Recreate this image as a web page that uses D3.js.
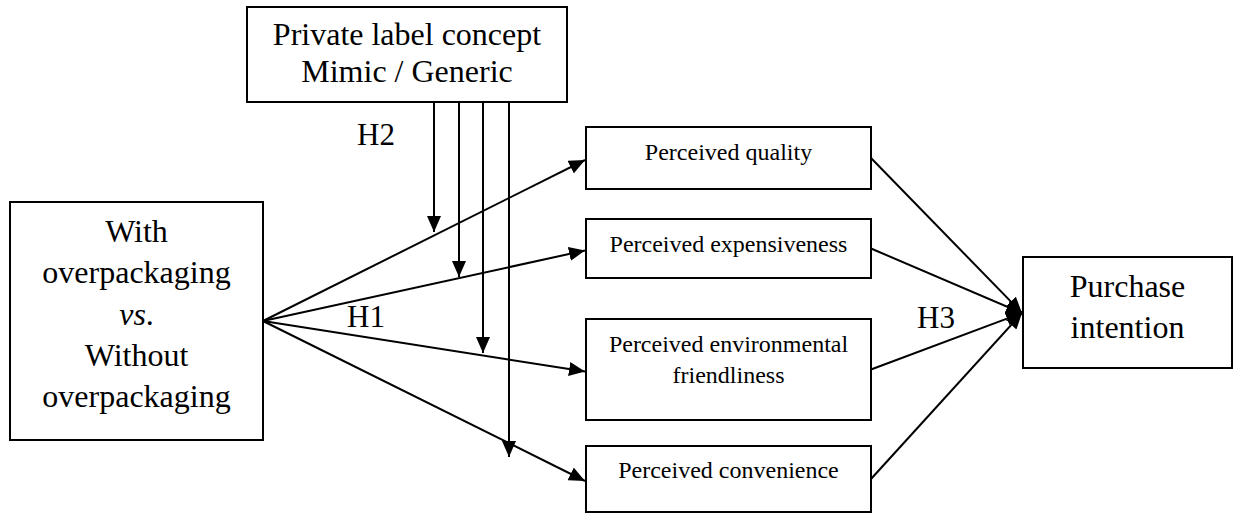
<!DOCTYPE html>
<html>
<head>
<meta charset="utf-8">
<script src="https://cdn.jsdelivr.net/npm/d3@7"></script>
<style>
  body { margin: 0; background: #fff; }
  text { font-family: "Liberation Serif", "Times New Roman", serif; fill: #000; }
</style>
</head>
<body>
<script>
var width = 1234;
var height = 514;

// labels
var moderator_lines = ["Private label concept", "Mimic / Generic"];
var source_lines = ["With", "overpackaging", "vs.", "Without", "overpackaging"];
var mediators = [
    ["Perceived quality"],
    ["Perceived expensiveness"],
    ["Perceived environmental", "friendliness"],
    ["Perceived convenience"]
];
var outcome_lines = ["Purchase", "intention"];
var hypotheses = ["H1", "H2", "H3"];

// layout
var moderator_box = {x: 247, y: 7, w: 320, h: 95};
var source_box = {x: 10, y: 202, w: 253, h: 238};
var outcome_box = {x: 1023, y: 257, w: 209, h: 111};
var med_x = 586, med_w = 285;
var med_top = [127, 219, 319, 446];
var med_bottom = [189, 278, 420, 512];
var med_base = [[160], [252], [352, 383], [478]];
var origin = [263, 321];
var target = [1022, 313];
var h2_x = [434, 459, 483, 509];
var h2_tip = [232, 277, 353, 457];
var hyp_pos = [[347, 327], [357, 145], [917, 328]];

var svg = d3.select("body")
    .append("svg")
    .attr("width", width)
    .attr("height", height);

svg.append("defs").append("marker")
    .attr("id", "head")
    .attr("markerUnits", "userSpaceOnUse")
    .attr("viewBox", "0 0 16 14")
    .attr("markerWidth", 16)
    .attr("markerHeight", 14)
    .attr("refX", 16)
    .attr("refY", 7)
    .attr("orient", "auto")
    .append("path")
    .attr("d", "M0,0 L16,7 L0,14 Z")
    .attr("fill", "#000");

function box(b) {
    svg.append("rect")
        .attr("x", b.x).attr("y", b.y)
        .attr("width", b.w).attr("height", b.h)
        .attr("fill", "#fff")
        .attr("stroke", "#000")
        .attr("stroke-width", 2);
}

function arrow(x1, y1, x2, y2) {
    svg.append("line")
        .attr("x1", x1).attr("y1", y1)
        .attr("x2", x2).attr("y2", y2)
        .attr("stroke", "#000")
        .attr("stroke-width", 2)
        .attr("marker-end", "url(#head)");
}

// boxes
box(moderator_box);
box(source_box);
box(outcome_box);
mediators.forEach(function(m, i) {
    box({x: med_x, y: med_top[i], w: med_w, h: med_bottom[i] - med_top[i]});
});

// H1: source -> mediators
var med_mid = med_top.map(function(t, i) { return (t + med_bottom[i]) / 2 + 2; });
med_mid.forEach(function(y) {
    arrow(origin[0], origin[1], med_x - 1, y);
});

// H2: moderator -> H1 paths
h2_x.forEach(function(x, i) {
    arrow(x, moderator_box.y + moderator_box.h, x, h2_tip[i]);
});

// H3: mediators -> purchase intention
med_mid.forEach(function(y) {
    arrow(med_x + med_w, y - 2, target[0], target[1]);
});

// texts
svg.selectAll(".mod")
    .data(moderator_lines)
    .enter()
    .append("text")
    .attr("x", moderator_box.x + moderator_box.w / 2)
    .attr("y", function(d, i) { return 45 + i * 37; })
    .attr("text-anchor", "middle")
    .attr("font-size", "32px")
    .text(function(d) { return d; });

var src = svg.selectAll(".src")
    .data(source_lines)
    .enter()
    .append("text")
    .attr("x", source_box.x + source_box.w / 2)
    .attr("y", function(d, i) { return 242 + i * 41.3; })
    .attr("text-anchor", "middle")
    .attr("font-size", "32px");
src.each(function(d) {
    var t = d3.select(this);
    if (d === "vs.") {
        t.append("tspan").attr("font-style", "italic").text("vs");
        t.append("tspan").text(".");
    } else {
        t.text(d);
    }
});

mediators.forEach(function(lines, i) {
    svg.selectAll(".med" + i)
        .data(lines)
        .enter()
        .append("text")
        .attr("x", med_x + med_w / 2)
        .attr("y", function(d, j) { return med_base[i][j]; })
        .attr("text-anchor", "middle")
        .attr("font-size", "24px")
        .text(function(d) { return d; });
});

svg.selectAll(".out")
    .data(outcome_lines)
    .enter()
    .append("text")
    .attr("x", outcome_box.x + outcome_box.w / 2)
    .attr("y", function(d, i) { return 297 + i * 41; })
    .attr("text-anchor", "middle")
    .attr("font-size", "32px")
    .text(function(d) { return d; });

svg.selectAll(".hyp")
    .data(hypotheses)
    .enter()
    .append("text")
    .attr("x", function(d, i) { return hyp_pos[i][0]; })
    .attr("y", function(d, i) { return hyp_pos[i][1]; })
    .attr("font-size", "31px")
    .text(function(d) { return d; });
</script>
</body>
</html>
